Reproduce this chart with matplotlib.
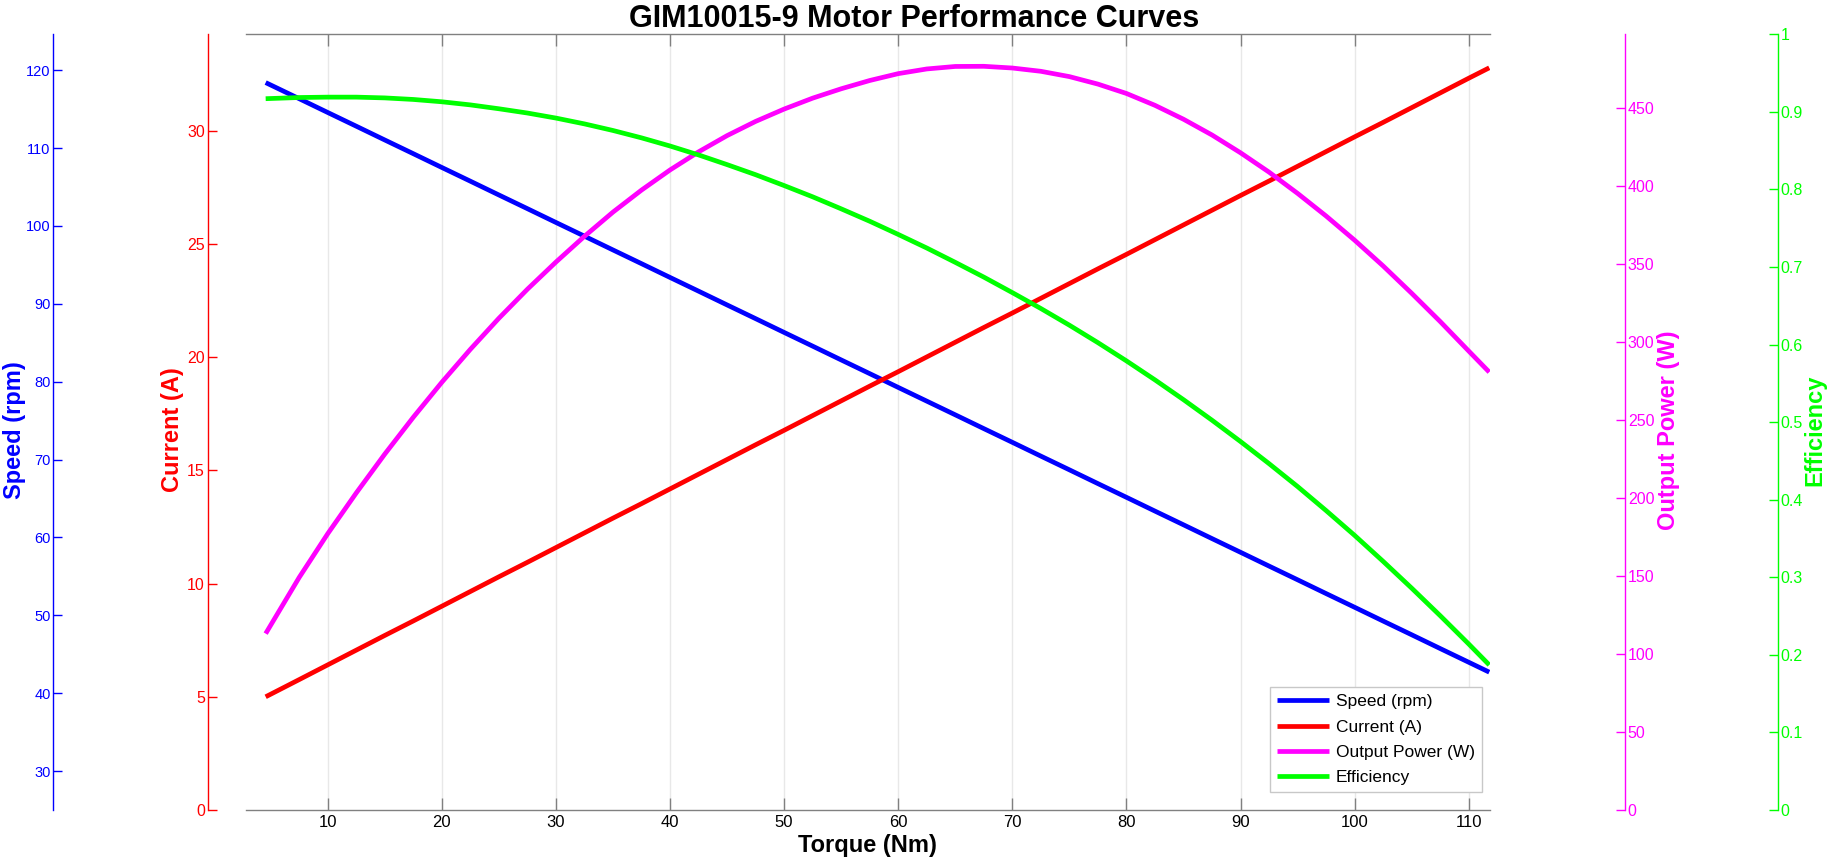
import matplotlib
matplotlib.use("Agg")
import matplotlib.pyplot as plt

plt.rcParams['font.family'] = ['Liberation Sans', 'DejaVu Sans']

# ---------------- data ----------------
torque = [4.56, 7.5, 10, 12.5, 15, 17.5, 20, 22.5, 25, 27.5, 30, 32.5, 35, 37.5,
          40, 42.5, 45, 47.5, 50, 52.5, 55, 57.5, 60, 62.5, 65, 67.5, 70, 72.5,
          75, 77.5, 80, 82.5, 85, 87.5, 90, 92.5, 95, 97.5, 100, 102.5, 105,
          107.5, 110, 111.8]
speed_rpm = [118.40, 116.33, 114.56, 112.80, 111.03, 109.27, 107.50, 105.74,
             103.97, 102.21, 100.44, 98.68, 96.91, 95.15, 93.38, 91.62, 89.85,
             88.09, 86.32, 84.56, 82.79, 81.03, 79.26, 77.50, 75.74, 73.97, 72.21,
             70.44, 68.68, 66.91, 65.15, 63.38, 61.62, 59.85, 58.09, 56.32, 54.56,
             52.79, 51.03, 49.26, 47.50, 45.73, 43.97, 42.70]
current_a = [5.00, 5.76, 6.41, 7.06, 7.71, 8.35, 9.00, 9.65, 10.30, 10.94, 11.59,
             12.24, 12.89, 13.53, 14.18, 14.83, 15.48, 16.13, 16.77, 17.42, 18.07,
             18.72, 19.36, 20.01, 20.66, 21.31, 21.95, 22.60, 23.25, 23.90, 24.54,
             25.19, 25.84, 26.49, 27.14, 27.78, 28.43, 29.08, 29.73, 30.37, 31.02,
             31.67, 32.32, 32.78]
power_w = [113, 149, 177, 203.1, 228, 251.6, 274, 295.1, 315, 333.6, 351, 367.5,
           383, 397.1, 410, 421.6, 432, 441.1, 449, 456.0, 462, 467.3, 471.7,
           474.7, 476.3, 476.4, 475.3, 473.2, 469.8, 465.0, 459, 451.4, 442.5,
           432.4, 421, 408.6, 395, 380.5, 365, 348.5, 331, 312.9, 294, 280.5]
efficiency = [0.917, 0.9185, 0.919, 0.919, 0.918, 0.916, 0.913, 0.909, 0.904,
              0.8985, 0.892, 0.8845, 0.876, 0.8665, 0.856, 0.8445, 0.832, 0.819,
              0.805, 0.7905, 0.775, 0.759, 0.742, 0.7245, 0.706, 0.687, 0.667,
              0.6465, 0.625, 0.6025, 0.579, 0.5545, 0.529, 0.5025, 0.475, 0.4465,
              0.417, 0.386, 0.354, 0.3205, 0.286, 0.2505, 0.214, 0.187]

x_ticks = [10, 20, 30, 40, 50, 60, 70, 80, 90, 100, 110]
speed_ticks = [30, 40, 50, 60, 70, 80, 90, 100, 110, 120]
current_ticks = [0, 5, 10, 15, 20, 25, 30]
power_ticks = [0, 50, 100, 150, 200, 250, 300, 350, 400, 450]
eff_ticks = [0, 0.1, 0.2, 0.3, 0.4, 0.5, 0.6, 0.7, 0.8, 0.9, 1]
eff_tick_labels = ['0', '0.1', '0.2', '0.3', '0.4', '0.5', '0.6', '0.7', '0.8', '0.9', '1']

title = 'GIM10015-9 Motor Performance Curves'
series_labels = ['Speed (rpm)', 'Current (A)', 'Output Power (W)', 'Efficiency']
axis_labels = ['Speed (rpm)', 'Current (A)', 'Output Power (W)', 'Efficiency']
colors = ['#0000FF', '#FF0000', '#FF00FF', '#00FF00']

# ---------------- layout ----------------
W, H = 1828, 860
fig = plt.figure(figsize=(W / 100, H / 100), dpi=100)
left_px, right_px, top_px, bot_px = 245.7, 1489.6, 34.3, 810.0
L, R = left_px / W, right_px / W
B, T = 1 - bot_px / H, 1 - top_px / H
ax = fig.add_axes([L, B, R - L, T - B])
ax_w = right_px - left_px
ax_h = bot_px - top_px

def ax_x(px):
    return (px - left_px) / ax_w

ax.set_xlim(2.81, 111.83)
ax.set_xticks(x_ticks)
ax.set_xticklabels([str(t) for t in x_ticks])
ax.set_yticks([])
ax.grid(axis='x', color='#E8E8E8', lw=1.0)
ax.set_axisbelow(True)
for s in ['left', 'right']:
    ax.spines[s].set_visible(False)
for s in ['top', 'bottom']:
    ax.spines[s].set_color('#808080')
    ax.spines[s].set_linewidth(1.0)
ax.tick_params(axis='x', direction='in', length=8.6, width=1.0, color='#808080',
               labelsize=12, pad=3.5, top=True, labelcolor='black')
ax.set_xlabel('Torque (Nm)', fontsize=17, fontweight='bold')
ax.xaxis.set_label_coords(0.5, (bot_px - 852) / ax_h)
ax.xaxis.label.set_va('baseline')

def make_axis(ylim, ticks, ticklabels, color, side, pos_px, label, lab_px, labsize, lab_y=0.49):
    a = ax.twinx()
    for s in a.spines.values():
        s.set_visible(False)
    a.spines[side].set_visible(True)
    a.spines[side].set_position(('axes', ax_x(pos_px)))
    a.spines[side].set_color(color)
    a.spines[side].set_linewidth(1.0)
    a.yaxis.set_ticks_position(side)
    a.yaxis.set_label_position(side)
    a.set_ylim(*ylim)
    a.set_yticks(ticks)
    a.set_yticklabels(ticklabels)
    a.tick_params(axis='y', direction='in', length=6.5, width=1.0, color=color,
                  labelcolor=color, labelsize=labsize, pad=2)
    a.set_ylabel(label, color=color, fontsize=17, fontweight='bold', rotation=90)
    a.yaxis.set_label_coords(ax_x(lab_px), lab_y)
    a.yaxis.label.set_ha('center')
    a.yaxis.label.set_va('center')
    return a

a_spd = make_axis((25, 124.6), speed_ticks, [str(t) for t in speed_ticks], colors[0],
                  'left', 53.3, axis_labels[0], 14, 10.5)
a_cur = make_axis((0, 34.26), current_ticks, [str(t) for t in current_ticks], colors[1],
                  'left', 207.7, axis_labels[1], 172.5, 11.5)
a_pow = make_axis((0, 496.9), power_ticks, [str(t) for t in power_ticks], colors[2],
                  'right', 1625, axis_labels[2], 1669, 11.5)
a_eff = make_axis((0, 1), eff_ticks, eff_tick_labels, colors[3],
                  'right', 1777.8, axis_labels[3], 1815, 11.5)

lw = 3.4
h1, = a_spd.plot(torque, speed_rpm, color=colors[0], lw=lw, solid_capstyle='butt',
                 solid_joinstyle='round')
h2, = a_cur.plot(torque, current_a, color=colors[1], lw=lw, solid_capstyle='butt',
                 solid_joinstyle='round')
h3, = a_pow.plot(torque, power_w, color=colors[2], lw=lw, solid_capstyle='butt',
                 solid_joinstyle='round')
h4, = a_eff.plot(torque, efficiency, color=colors[3], lw=lw, solid_capstyle='butt',
                 solid_joinstyle='round')

leg = a_eff.legend([h1, h2, h3, h4], series_labels, loc='lower right',
                   bbox_to_anchor=(ax_x(1482), (bot_px - 792) / ax_h),
                   fontsize=12.5, fancybox=False, edgecolor='#C8C8C8', framealpha=1,
                   handlelength=3.0, handletextpad=0.4, labelspacing=0.58,
                   borderpad=0.4, borderaxespad=0)
leg.get_frame().set_linewidth(1.0)

fig.text(0.5, 1 - 27 / H, title, ha='center', va='baseline', fontsize=22,
         fontweight='bold')

fig.savefig('out.png', dpi=100)
